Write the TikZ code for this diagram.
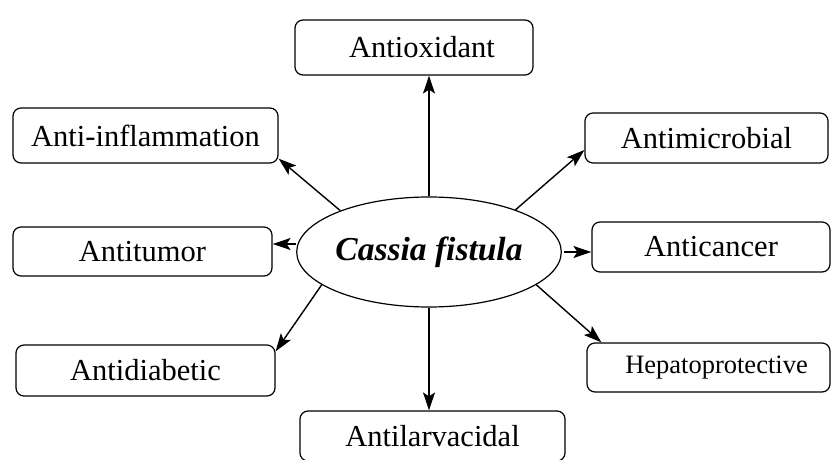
\documentclass[tikz,border=0pt]{standalone}
\usepackage{fontspec}
\setmainfont{Liberation Serif}
\usepackage{tikz}
\usetikzlibrary{positioning,arrows.meta,shapes.geometric}

\tikzset{
  effect_box/.style={draw, rounded corners=8pt, line width=1.2pt, inner sep=0pt,
    font=\fontsize{30.5}{35}\selectfont},
  effect_arrow/.style={line width=1.4pt, -{Stealth[length=18pt,width=12pt,inset=4pt]}}
}

\begin{document}
\begin{tikzpicture}[x=1pt,y=-1pt]
\useasboundingbox (0,0) rectangle (831,460);
\node[draw, ellipse, line width=1.2pt, minimum width=258pt, minimum height=110pt, inner sep=0pt,
  font=\fontsize{33.5}{38}\selectfont\bfseries\itshape] (node_cf) at (429,252) {Cassia fistula};
\node[effect_box, minimum width=238pt, minimum height=55pt] (node_aox) at (414,47.5) {\hspace*{16pt}Antioxidant};
\node[effect_box, minimum width=265pt, minimum height=55pt] (node_infl) at (145.5,135.5) {Anti-inflammation};
\node[effect_box, minimum width=243pt, minimum height=50pt] (node_micro) at (706.5,138) {Antimicrobial};
\node[effect_box, minimum width=259pt, minimum height=49pt] (node_tumor) at (142.5,251.5) {Antitumor};
\node[effect_box, minimum width=238pt, minimum height=50pt] (node_cancer) at (711,247) {Anticancer};
\node[effect_box, minimum width=259pt, minimum height=51pt] (node_diab) at (145.5,370.5) {Antidiabetic};
\node[effect_box, minimum width=243pt, minimum height=49pt, font=\fontsize{26.5}{30}\selectfont] (node_hepa) at (708.5,367.5) {\hspace*{16pt}Hepatoprotective};
\node[effect_box, minimum width=265pt, minimum height=50pt] (node_larv) at (432.5,436) {Antilarvacidal};
\draw[effect_arrow] (node_cf.north) -- (node_cf.north |- node_aox.south);
\draw[effect_arrow] (node_cf.155) -- ([yshift=5pt]node_infl.south east);
\draw[effect_arrow] (node_cf.26) -- ([yshift=-12pt]node_micro.west);
\draw[effect_arrow] ([yshift=8pt]node_cf.west) -- ([yshift=8pt]node_cf.west -| node_tumor.east);
\draw[effect_arrow] ([xshift=2pt]node_cf.east) -- (node_cf.east -| node_cancer.west);
\draw[effect_arrow] (node_cf.197) -- ([yshift=-7pt]node_diab.north east);
\draw[effect_arrow] (node_cf.-17) -- ([xshift=15pt]node_hepa.north west);
\draw[effect_arrow] (node_cf.south) -- (node_cf.south |- node_larv.north);
\end{tikzpicture}
\end{document}
